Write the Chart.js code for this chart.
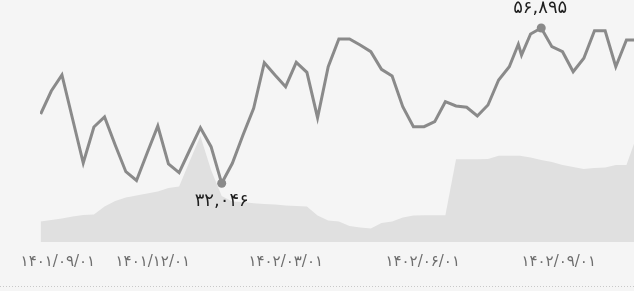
<!DOCTYPE html>
<html lang="fa">
<head>
<meta charset="utf-8">
<script src="https://cdn.jsdelivr.net/npm/chart.js@4/dist/chart.umd.min.js"></script>
<style>
  html, body { margin: 0; padding: 0; background: #f5f5f5; }
  #wrap { position: relative; width: 634px; height: 291px; }
</style>
</head>
<body>
<div id="wrap"><canvas id="c"></canvas></div>
<script>
// week index of each price point
const priceWeeks = [0,1,2,3,4,5,6,7,8,9,10,11,12,13,14,15,16,17,18,19,20,21,22,23,24,25,26,27,28,29,30,31,32,33,34,35,36,37,38,39,40,41,42,43,44,44.85,45.15,46,47,48,49,50,51,52,53,54,55,56];
const prices = [43134,46814,49374,42334,35294,41054,42654,38174,33902,32494,36894,41214,35134,33742,37374,40942,37902,32046,35246,39774,44046,51342,49374,47502,51406,49806,42542,50702,55134,55134,54174,53102,50286,49214,44302,41102,41102,41902,45102,44414,44206,42814,44574,48574,50702,54286,52574,55934,56895,53902,53102,49902,52046,56462,56462,50702,54974,54974];
// week index of each volume point
const volumeWeeks = [0,1,2,3,4,5,6,7,8,9,10,11,12,13,14,15,16,17,18,19,20,21,22,23,24,25,26,27,28,29,30,31,32,33,34,35,36,37,38,39,40,41,42,43,44,45,46,47,48,49,50,51,52,53,54,55,56];
const volumes = [20.8,22.3,23.8,25.8,27.3,27.8,35.8,41.3,44.8,46.8,48.8,50.8,54.3,55.8,81.3,106.3,72.3,46.3,40.8,40.3,39,38.3,37.8,36.8,36.3,35.8,26.8,21.8,20.8,16.3,14.8,13.8,19.3,20.8,24.8,26.8,27,27,27,83,83,83,83.3,86.6,86.6,86.6,84.8,82.3,80.3,77.3,75.3,73.3,74.3,74.8,77.3,77.3,107.3];
// tick labels and their week positions
const tickWeeks = [1.62, 10.53, 23.01, 35.87, 48.64];
const tickLabels = ['۱۴۰۱/۰۹/۰۱','۱۴۰۱/۱۲/۰۱','۱۴۰۲/۰۳/۰۱','۱۴۰۲/۰۶/۰۱','۱۴۰۲/۰۹/۰۱'];

const toFa = n => n.toLocaleString('en-US').replace(/\d/g, d => '۰۱۲۳۴۵۶۷۸۹'[d]);
const minIdx = prices.indexOf(Math.min(...prices));
const maxIdx = prices.indexOf(Math.max(...prices));

const extremes = {
  id: 'extremes',
  afterDatasetsDraw(chart) {
    const ctx = chart.ctx;
    const pts = chart.getDatasetMeta(0).data;
    ctx.save();
    ctx.font = '18px "DejaVu Sans", sans-serif';
    ctx.fillStyle = '#1e1e1e';
    ctx.textAlign = 'center';
    ctx.textBaseline = 'middle';
    const pMax = pts[maxIdx], pMin = pts[minIdx];
    ctx.fillText(toFa(prices[maxIdx]), pMax.x - 1, pMax.y - 20);
    ctx.fillText(toFa(prices[minIdx]), pMin.x, pMin.y + 18);
    ctx.restore();
  },
  afterDraw(chart) {
    const ctx = chart.ctx;
    ctx.save();
    ctx.strokeStyle = '#c8c8c8';
    ctx.lineWidth = 1;
    ctx.setLineDash([1, 2]);
    ctx.beginPath();
    ctx.moveTo(0, chart.height - 4.5);
    ctx.lineTo(chart.width, chart.height - 4.5);
    ctx.stroke();
    ctx.restore();
  }
};

new Chart(document.getElementById('c'), {
  type: 'line',
  data: {
    datasets: [
      {
        data: priceWeeks.map((w, i) => ({ x: w, y: prices[i] })),
        yAxisID: 'y',
        borderColor: '#8a8a8a',
        borderWidth: 3,
        fill: false,
        tension: 0,
        pointRadius: ctx => (ctx.dataIndex === minIdx || ctx.dataIndex === maxIdx) ? 4.5 : 0,
        pointBackgroundColor: '#8a8a8a',
        pointBorderWidth: 0,
        order: 0
      },
      {
        data: volumeWeeks.map((w, i) => ({ x: w, y: volumes[i] })),
        yAxisID: 'y2',
        borderWidth: 0,
        borderColor: 'rgba(0,0,0,0)',
        backgroundColor: '#e0e0e0',
        fill: 'origin',
        tension: 0,
        pointRadius: 0,
        order: 1
      }
    ]
  },
  options: {
    responsive: true,
    maintainAspectRatio: false,
    animation: false,
    layout: { padding: { left: 40, right: 0, top: 10, bottom: 8.3 } },
    plugins: { legend: { display: false }, tooltip: { enabled: false } },
    scales: {
      x: {
        type: 'linear',
        min: -0.06,
        max: 55.71,
        grid: { display: false, drawTicks: false },
        border: { display: false },
        afterBuildTicks: scale => { scale.ticks = tickWeeks.map(v => ({ value: v })); },
        ticks: {
          autoSkip: false,
          maxRotation: 0,
          padding: 11.2,
          color: '#6e6e6e',
          font: { family: '"DejaVu Sans", sans-serif', size: 15 },
          callback: (v, i) => tickLabels[i]
        }
      },
      y: { display: false, min: 22606, max: 59774 },
      y2: { display: false, min: 0, max: 232.3 }
    }
  },
  plugins: [extremes]
});
</script>
</body>
</html>
